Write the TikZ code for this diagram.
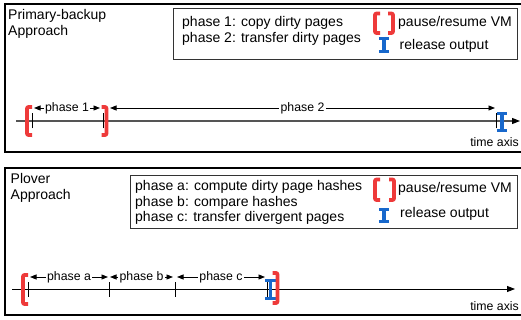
\documentclass[tikz,border=0pt]{standalone}
\usepackage{fontspec}
\setmainfont{Liberation Sans}
\usetikzlibrary{arrows.meta}
\definecolor{brred}{RGB}{238,58,58}
\definecolor{iblue}{RGB}{24,104,204}
\definecolor{axisgray}{RGB}{85,85,85}
\tikzset{
  panel/.style={line width=2.2pt, draw=black},
  legendbox/.style={line width=0.8pt, draw=black!80},
  bigtxt/.style={font=\fontsize{14}{16}\selectfont, inner sep=0pt, anchor=base west},
  smalltxt/.style={font=\fontsize{12.3}{14}\selectfont},
  axistxt/.style={smalltxt, inner sep=0pt, anchor=base east},
  dimline/.style={line width=0.9pt, {Triangle[length=6.5pt,width=5pt]}-{Triangle[length=6.5pt,width=5pt]}},
  dimlabel/.style={smalltxt, fill=white, inner sep=1.5pt},
  tickmark/.style={line width=0.8pt, draw=black},
  pausebr/.style={draw=brred, line width=3.6pt, line join=round, rounded corners=1pt},
  relbar/.style={draw=iblue, line width=3.6pt},
  relserif/.style={draw=iblue, line width=2.8pt},
}
% left bracket: x of vertical, top y, bottom y
\newcommand{\brLeft}[3]{\draw[pausebr] (#1+5,#2) -- (#1,#2) -- (#1,#3) -- (#1+5,#3);}
\newcommand{\brRight}[3]{\draw[pausebr] (#1-5,#2) -- (#1,#2) -- (#1,#3) -- (#1-5,#3);}
\newcommand{\relMark}[3]{\draw[relbar] (#1,#2) -- (#1,#3);
  \draw[relserif] (#1-5.2,#2+1.4) -- (#1+5.2,#2+1.4) (#1-5.2,#3-1.4) -- (#1+5.2,#3-1.4);}
\begin{document}
\begin{tikzpicture}[x=1pt,y=-1pt]
\useasboundingbox (0,0) rectangle (521,320);
\fill[white] (0,0) rectangle (521,320);

% ================= top panel =================
\draw[panel] (5,4.3) rectangle (530,152);
\node[bigtxt] (t1) at (8,20) {Primary-backup};
\node[bigtxt] (t2) at (8,36) {Approach};
\draw[legendbox] (173,8.3) rectangle (517,59.3);
\node[bigtxt] (l1) at (182,26.5) {phase 1: copy dirty pages};
\node[bigtxt] (l2) at (182,42.5) {phase 2: transfer dirty pages};
\brLeft{375}{13.5}{33}
\brRight{393}{13.5}{33}
\node[bigtxt] (lp) at (398,26.5) {pause/resume VM};
\relMark{384}{37}{53}
\node[bigtxt] (lr) at (399.5,50) {release output};

% timeline
\coordinate (axs) at (16,121);
\coordinate (axe) at (520,121);
\draw[axisgray, line width=1.3pt, -{Triangle[length=8pt,width=6pt,color=black]}] (axs) -- (axe);
\coordinate (k1) at (32,121);
\coordinate (k2) at (103,121);
\coordinate (k3) at (496,121);
\foreach \k in {k1,k2,k3} \draw[tickmark] ([yshift=-7.5pt]\k) -- ([yshift=7.5pt]\k);
\coordinate (p1s) at (34,108);
\coordinate (p1e) at (100,108);
\coordinate (p2s) at (110,108);
\coordinate (p2e) at (495,108);
\draw[dimline] (p1s) -- node[dimlabel] (d1) {phase 1} (p1e);
\draw[dimline] (p2s) -- node[dimlabel] (d2) {phase 2} (p2e);
\brLeft{27}{107}{135}
\brRight{106.5}{107}{135}
\relMark{502}{112}{132}
\node[axistxt] (ta1) at (519,146.5) {time axis};

% ================= bottom panel =================
\draw[panel] (5,168) rectangle (530,315);
\node[bigtxt] (b1) at (10.5,184) {Plover};
\node[bigtxt] (b2) at (10.5,200) {Approach};
\draw[legendbox] (130,175) rectangle (517,228.5);
\node[bigtxt] (m1) at (135,190) {phase a: compute dirty page hashes};
\node[bigtxt] (m2) at (135,206) {phase b: compare hashes};
\node[bigtxt] (m3) at (135,222) {phase c: transfer divergent pages};
\brLeft{375}{179.5}{200}
\brRight{394}{179.5}{200}
\node[bigtxt] (mp) at (398,193) {pause/resume VM};
\relMark{384}{208}{223}
\node[bigtxt] (mr) at (400,218) {release output};

% timeline
\coordinate (bxs) at (12,289);
\coordinate (bxe) at (515,289);
\draw[black, line width=0.9pt, -{Triangle[length=8pt,width=6pt]}] (bxs) -- (bxe);
\coordinate (n1) at (28,289);
\coordinate (n2) at (109,289);
\coordinate (n3) at (175,289);
\coordinate (n4) at (267,289);
\foreach \k in {n1,n2,n3,n4} \draw[tickmark] ([yshift=-7.5pt]\k) -- ([yshift=7.5pt]\k);
\coordinate (pas) at (30,277);
\coordinate (pae) at (108,277);
\coordinate (pbs) at (110,277);
\coordinate (pbe) at (173,277);
\coordinate (pcs) at (177,277);
\coordinate (pce) at (265,277);
\draw[dimline] (pas) -- node[dimlabel] (da) {phase a} (pae);
\draw[dimline] (pbs) -- node[dimlabel] (db) {phase b} (pbe);
\draw[dimline] (pcs) -- node[dimlabel] (dc) {phase c} (pce);
\brLeft{23}{275}{304}
\relMark{270.5}{279}{300}
\brRight{277.5}{273}{303}
\node[axistxt] (ta2) at (519,310.5) {time axis};
\end{tikzpicture}
\end{document}
